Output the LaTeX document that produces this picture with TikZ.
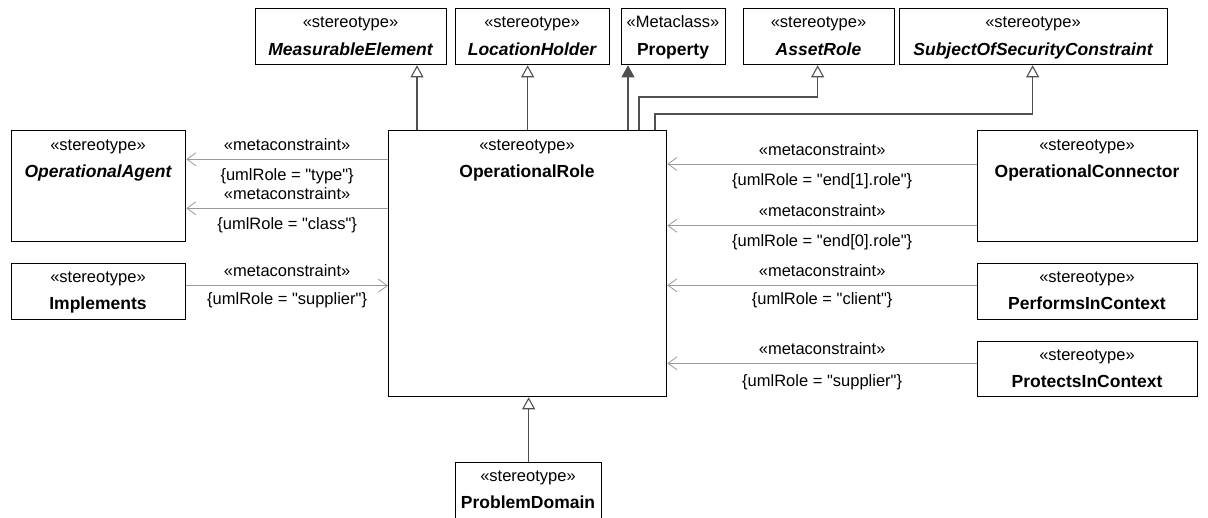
\documentclass[tikz,border=0pt]{standalone}
\usepackage{fontspec}
\setmainfont{Liberation Sans}[Ligatures=TeXOff]
\usetikzlibrary{arrows.meta}
\definecolor{genc}{HTML}{505050}
\definecolor{metac}{HTML}{9A9A9A}
\begin{document}
\begin{tikzpicture}[x=1pt,y=-1pt,
  box/.style={draw=black, line width=1.3pt, anchor=north west, inner sep=0pt},
  st/.style={anchor=base, inner sep=0pt, font=\fontsize{16.5}{19}\selectfont},
  nm/.style={anchor=base, inner sep=0pt, font=\fontsize{17.5}{19}\selectfont\bfseries},
  nmi/.style={anchor=base, inner sep=0pt, font=\fontsize{17.5}{19}\selectfont\bfseries\itshape},
  gen/.style={draw=genc, line width=1.2pt, -{Triangle[open, length=12pt, width=13pt, line width=1.1pt]}},
  genf/.style={draw=genc, line width=1.2pt, -{Triangle[length=12pt, width=13pt]}},
  meta/.style={draw=metac, line width=0.8pt, -{Straight Barb[length=9pt, width=13pt, line width=0.8pt]}},
  lbl/.style={inner sep=0pt, anchor=base, font=\fontsize{16.5}{19}\selectfont},
]
\useasboundingbox (0,0) rectangle (1208,517);

% top row
\node[box, minimum width=191pt, minimum height=56pt] (ME) at (255,8) {};
\node[st] (MEs) at (350.5,27) {«stereotype»};
\node[nmi] (MEn) at (350.5,55) {MeasurableElement};

\node[box, minimum width=154pt, minimum height=56pt] (LH) at (455,8) {};
\node[st] (LHs) at (532,27) {«stereotype»};
\node[nmi] (LHn) at (532,55) {LocationHolder};

\node[box, minimum width=104pt, minimum height=56pt] (PR) at (621,8) {};
\node[st] (PRs) at (673,27) {«Metaclass»};
\node[nm] (PRn) at (673,55) {Property};

\node[box, minimum width=151pt, minimum height=56pt] (AR) at (743,8) {};
\node[st] (ARs) at (818.5,27) {«stereotype»};
\node[nmi] (ARn) at (818.5,55) {AssetRole};

\node[box, minimum width=268pt, minimum height=56pt] (SS) at (899,8) {};
\node[st] (SSs) at (1033,27) {«stereotype»};
\node[nmi] (SSn) at (1033,55) {SubjectOfSecurityConstraint};

% left
\node[box, minimum width=174pt, minimum height=111pt] (OA) at (11,130) {};
\node[st] (OAs) at (98,150.5) {«stereotype»};
\node[nmi] (OAn) at (98,177) {OperationalAgent};

\node[box, minimum width=174pt, minimum height=56pt] (IM) at (11,263) {};
\node[st] (IMs) at (98,282.5) {«stereotype»};
\node[nm] (IMn) at (98,309) {Implements};

% centre
\node[box, minimum width=278pt, minimum height=266pt] (OR) at (388,130) {};
\node[st] (ORs) at (527,150.5) {«stereotype»};
\node[nm] (ORn) at (527,177) {OperationalRole};

% right
\node[box, minimum width=220pt, minimum height=111pt] (OC) at (977,130) {};
\node[st] (OCs) at (1087,150.5) {«stereotype»};
\node[nm] (OCn) at (1087,177) {OperationalConnector};

\node[box, minimum width=220pt, minimum height=56pt] (PC) at (977,263) {};
\node[st] (PCs) at (1087,282.5) {«stereotype»};
\node[nm] (PCn) at (1087,309) {PerformsInContext};

\node[box, minimum width=220pt, minimum height=55pt] (PT) at (977,341) {};
\node[st] (PTs) at (1087,360.5) {«stereotype»};
\node[nm] (PTn) at (1087,387) {ProtectsInContext};

% bottom
\node[box, minimum width=146pt, minimum height=90pt] (PD) at (455,462) {};
\node[st] (PDs) at (528,481.5) {«stereotype»};
\node[nm] (PDn) at (528,508) {ProblemDomain};

% generalizations
\coordinate (g1) at ([xshift=29pt]OR.north west);
\coordinate (g3) at ([xshift=240pt]OR.north west);
\coordinate (g4) at ([xshift=251pt]OR.north west);
\coordinate (g5) at ([xshift=267pt]OR.north west);
\draw[gen] (g1) -- (g1 |- ME.south);
\draw[gen] (OR.north) -- (OR.north |- LH.south);
\draw[genf] (g3) -- (g3 |- PR.south);
\draw[gen] (g4) -- ++(0,-33) -| ([xshift=-1.5pt]AR.south);
\draw[gen] (g5) -- ++(0,-16) -| ([xshift=-1pt]SS.south);
\draw[gen] (PD.north) -- (PD.north |- OR.south);

% metaconstraints
\coordinate (l1) at ([yshift=-29.3pt]OR.north west);
\coordinate (l2) at ([yshift=-78.3pt]OR.north west);
\coordinate (l3) at ([yshift=-155.7pt]OR.north west);
\coordinate (r1) at ([yshift=-34pt]OR.north east);
\coordinate (r2) at ([yshift=-95.7pt]OR.north east);
\coordinate (r3) at ([yshift=-155.3pt]OR.north east);
\coordinate (r4) at ([yshift=-233.3pt]OR.north east);

\draw[meta] (l1) -- (l1 -| OA.east)
  node[lbl, pos=.5, yshift=9pt] (t1a) {«metaconstraint»}
  node[lbl, pos=.5, yshift=-21pt] (t1b) {\{umlRole = "type"\}};
\draw[meta] (l2) -- (l2 -| OA.east)
  node[lbl, pos=.5, yshift=9pt] (t2a) {«metaconstraint»}
  node[lbl, pos=.5, yshift=-21pt] (t2b) {\{umlRole = "class"\}};
\draw[meta] (l3 -| IM.east) -- (l3)
  node[lbl, pos=.5, yshift=9pt] (t3a) {«metaconstraint»}
  node[lbl, pos=.5, yshift=-19pt] (t3b) {\{umlRole = "supplier"\}};

\draw[meta] (r1 -| OC.west) -- (r1)
  node[lbl, pos=.5, yshift=9pt] (t4a) {«metaconstraint»}
  node[lbl, pos=.5, yshift=-21pt] (t4b) {\{umlRole = "end[1].role"\}};
\draw[meta] (r2 -| OC.west) -- (r2)
  node[lbl, pos=.5, yshift=9pt] (t5a) {«metaconstraint»}
  node[lbl, pos=.5, yshift=-21pt] (t5b) {\{umlRole = "end[0].role"\}};
\draw[meta] (r3 -| PC.west) -- (r3)
  node[lbl, pos=.5, yshift=9pt] (t6a) {«metaconstraint»}
  node[lbl, pos=.5, yshift=-19pt] (t6b) {\{umlRole = "client"\}};
\draw[meta] (r4 -| PT.west) -- (r4)
  node[lbl, pos=.5, yshift=9pt] (t7a) {«metaconstraint»}
  node[lbl, pos=.5, yshift=-23pt] (t7b) {\{umlRole = "supplier"\}};
\end{tikzpicture}
\end{document}
